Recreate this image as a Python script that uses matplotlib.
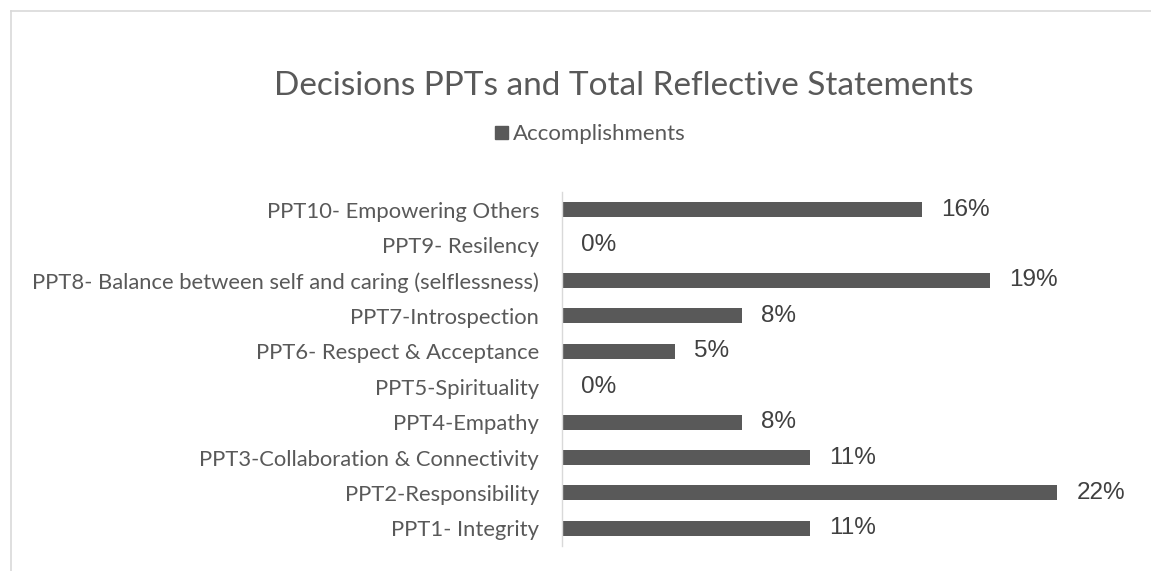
import matplotlib.pyplot as plt
from matplotlib.lines import Line2D
from matplotlib.patches import Rectangle

# chart data (bottom to top)
categories = [
    'PPT1- Integrity',
    'PPT2-Responsibility',
    'PPT3-Collaboration & Connectivity',
    'PPT4-Empathy',
    'PPT5-Spirituality',
    'PPT6- Respect & Acceptance',
    'PPT7-Introspection',
    'PPT8- Balance between self and caring (selflessness)',
    'PPT9- Resilency',
    'PPT10- Empowering Others',
]
accomplishments = [0.11, 0.22, 0.11, 0.08, 0.00, 0.05, 0.08, 0.19, 0.00, 0.16]
series_name = 'Accomplishments'
title = 'Decisions PPTs and Total Reflective Statements'

W, H = 1151, 571
bar_color = '#595959'
text_color = '#595959'
label_font = 'Lato'

fig = plt.figure(figsize=(W / 100, H / 100), dpi=100)

# plot area placed in pixel terms
left, right, top, bottom = 562, 1100, 192, 546
ax = fig.add_axes([left / W, 1 - bottom / H, (right - left) / W, (bottom - top) / H])

y = range(len(categories))
ax.barh(y, accomplishments, height=0.42, color=bar_color)
ax.set_ylim(-0.5, len(categories) - 0.5)
ax.set_xlim(0, 0.239)

for i, v in enumerate(accomplishments):
    ax.text(v + 0.0085, i, f'{v:.0%}', va='center', ha='left',
            fontsize=17.5, color='#404040', family='Liberation Sans')

ax.set_yticks(list(y))
ax.set_yticklabels(categories, fontsize=15.8, color=text_color, family=label_font)
ax.tick_params(axis='y', length=0, pad=16.5)
ax.set_xticks([])
for side in ['top', 'right', 'bottom']:
    ax.spines[side].set_visible(False)
ax.spines['left'].set_color('#d9d9d9')
ax.spines['left'].set_linewidth(1.0)

# title and legend
fig.text(624 / W, 1 - 95 / H, title, ha='center', va='baseline',
         fontsize=24, color=text_color, family=label_font)
fig.patches.append(Rectangle((495 / W, 1 - 139 / H), 13 / W, 13 / H,
                             transform=fig.transFigure, color=bar_color))
fig.text(513 / W, 1 - 140 / H, series_name, ha='left', va='baseline',
         fontsize=16, color=text_color, family=label_font)

# cropped chart frame (left and top edges only)
fig.add_artist(Line2D([11 / W, 11 / W], [0, 1 - 11 / H],
                      transform=fig.transFigure, color='#d9d9d9', lw=1.2))
fig.add_artist(Line2D([11 / W, 1], [1 - 11 / H, 1 - 11 / H],
                      transform=fig.transFigure, color='#d9d9d9', lw=1.2))

fig.savefig('out.png', dpi=100)
